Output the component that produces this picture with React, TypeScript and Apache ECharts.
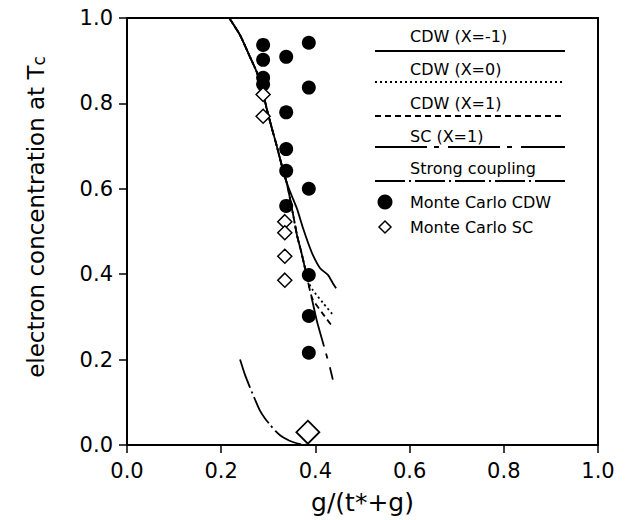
import React, { useEffect, useRef } from "react";
import * as echarts from "echarts";

// x tick labels / y tick labels
const xTicks = [0.0, 0.2, 0.4, 0.6, 0.8, 1.0];
const yTicks = [0.0, 0.2, 0.4, 0.6, 0.8, 1.0];

// Theory curves [g/(t*+g), n]
const cdwXm1 = [
  [0.217, 1.0], [0.240, 0.960], [0.261, 0.909], [0.276, 0.872], [0.287, 0.833],
  [0.297, 0.786], [0.308, 0.740], [0.318, 0.700], [0.329, 0.653], [0.340, 0.612],
  [0.350, 0.583], [0.361, 0.553], [0.374, 0.507], [0.385, 0.472], [0.395, 0.444],
  [0.410, 0.414], [0.427, 0.398], [0.437, 0.379], [0.444, 0.367],
];
const cdwX0 = [
  [0.217, 1.0], [0.240, 0.960], [0.261, 0.909], [0.276, 0.872], [0.287, 0.833],
  [0.297, 0.786], [0.308, 0.740], [0.318, 0.700], [0.329, 0.653], [0.340, 0.610],
  [0.350, 0.555], [0.361, 0.491], [0.370, 0.452], [0.378, 0.414], [0.384, 0.384],
  [0.395, 0.362], [0.416, 0.333], [0.437, 0.305],
];
const cdwX1 = [
  [0.217, 1.0], [0.240, 0.960], [0.261, 0.909], [0.276, 0.872], [0.287, 0.833],
  [0.297, 0.786], [0.308, 0.740], [0.318, 0.700], [0.329, 0.653], [0.340, 0.610],
  [0.350, 0.555], [0.361, 0.491], [0.370, 0.452], [0.378, 0.414], [0.384, 0.384],
  [0.393, 0.344], [0.414, 0.310], [0.435, 0.279],
];
const scX1 = [
  [0.217, 1.0], [0.240, 0.960], [0.261, 0.909], [0.276, 0.872], [0.287, 0.833],
  [0.297, 0.786], [0.308, 0.740], [0.318, 0.700], [0.329, 0.653], [0.340, 0.610],
  [0.350, 0.555], [0.361, 0.491], [0.370, 0.452], [0.378, 0.414], [0.384, 0.384],
  [0.393, 0.340], [0.403, 0.291], [0.417, 0.236], [0.431, 0.181], [0.437, 0.153],
];
const strongCoupling = [
  [0.240, 0.200], [0.250, 0.166], [0.261, 0.135], [0.272, 0.106], [0.282, 0.081],
  [0.293, 0.062], [0.304, 0.047], [0.315, 0.033], [0.325, 0.023], [0.338, 0.014],
  [0.352, 0.007], [0.368, 0.002], [0.384, 0.0],
];

// Monte Carlo points
const mcCdw = [
  [0.289, 0.937], [0.289, 0.902], [0.289, 0.860], [0.289, 0.845],
  [0.338, 0.909], [0.338, 0.779], [0.338, 0.693], [0.338, 0.642], [0.338, 0.560],
  [0.386, 0.942], [0.386, 0.837], [0.386, 0.600], [0.386, 0.398], [0.386, 0.302], [0.386, 0.216],
];
const mcSc = [
  [0.289, 0.821], [0.289, 0.770],
  [0.335, 0.523], [0.335, 0.497], [0.335, 0.442], [0.335, 0.386],
];
const mcScLarge = [[0.384, 0.030]];

const legendLabels = [
  "CDW (X=-1)",
  "CDW (X=0)",
  "CDW (X=1)",
  "SC (X=1)",
  "Strong coupling",
  "Monte Carlo CDW",
  "Monte Carlo SC",
];

const FONT = "DejaVu Sans";

export default function App() {
  const ref = useRef<HTMLDivElement>(null);
  useEffect(() => {
    if (!ref.current) return;
    const chart = echarts.init(ref.current, null, { renderer: "svg" });

    const dashes: (number[] | null)[] = [null, [2, 3], [6, 4], [52, 7, 5, 9], [30, 4, 2, 4]];
    const lineStyleBase = { color: "#000", width: 1.8 };
    const curves = [cdwXm1, cdwX0, cdwX1, scX1, strongCoupling];

    const legendGraphics: any[] = [];
    const lineTextY = [36, 69, 103, 136, 168];
    const lineY = [51, 82, 116, 147, 181];
    for (let i = 0; i < 5; i++) {
      legendGraphics.push({
        type: "text",
        x: 410,
        y: lineTextY[i],
        style: { text: legendLabels[i], fontFamily: FONT, fontSize: 16, fill: "#000", align: "left", verticalAlign: "middle" },
      });
      legendGraphics.push({
        type: "line",
        shape: { x1: 375, y1: lineY[i], x2: 565, y2: lineY[i] },
        style: { stroke: "#000", lineWidth: 1.8, lineDash: dashes[i] || undefined },
      });
    }
    legendGraphics.push({ type: "circle", shape: { cx: 385, cy: 202, r: 7.5 }, style: { fill: "#000" } });
    legendGraphics.push({
      type: "text", x: 410, y: 202,
      style: { text: legendLabels[5], fontFamily: FONT, fontSize: 16, fill: "#000", align: "left", verticalAlign: "middle" },
    });
    legendGraphics.push({
      type: "polygon",
      shape: { points: [[385, 221], [391, 227], [385, 233], [379, 227]] },
      style: { fill: "#fff", stroke: "#000", lineWidth: 1.5 },
    });
    legendGraphics.push({
      type: "text", x: 410, y: 227,
      style: { text: legendLabels[6], fontFamily: FONT, fontSize: 16, fill: "#000", align: "left", verticalAlign: "middle" },
    });
    legendGraphics.push({
      type: "text",
      x: 32,
      y: 217,
      rotation: Math.PI / 2,
      style: {
        text: "{a|electron concentration at T}{b|c}",
        align: "center",
        verticalAlign: "middle",
        rich: {
          a: { fontFamily: FONT, fontSize: 23, fill: "#000", verticalAlign: "bottom", lineHeight: 30 },
          b: { fontFamily: FONT, fontSize: 17, fill: "#000", verticalAlign: "bottom", lineHeight: 20 },
        },
      },
    });

    const option: any = {
      animation: false,
      backgroundColor: "#fff",
      grid: { left: 127, right: 38, top: 18, bottom: 72, show: true, borderColor: "#000", borderWidth: 2 },
      xAxis: {
        type: "value",
        min: xTicks[0],
        max: xTicks[xTicks.length - 1],
        interval: 0.2,
        splitLine: { show: false },
        axisLine: { show: true, onZero: false, lineStyle: { color: "#000", width: 2 } },
        axisTick: { show: true, inside: false, length: 8, lineStyle: { color: "#000", width: 1.5 } },
        axisLabel: { color: "#000", fontFamily: FONT, fontSize: 21, margin: 15, formatter: (v: number) => v.toFixed(1) },
        name: "g/(t*+g)",
        nameLocation: "middle",
        nameGap: 45,
        nameTextStyle: { color: "#000", fontFamily: FONT, fontSize: 25 },
      },
      yAxis: {
        type: "value",
        min: yTicks[0],
        max: yTicks[yTicks.length - 1],
        interval: 0.2,
        splitLine: { show: false },
        axisLine: { show: true, onZero: false, lineStyle: { color: "#000", width: 2 } },
        axisTick: { show: true, inside: false, length: 8, lineStyle: { color: "#000", width: 1.5 } },
        axisLabel: { color: "#000", fontFamily: FONT, fontSize: 21, margin: 14, formatter: (v: number) => v.toFixed(1) },
      },
      graphic: legendGraphics,
      series: [
        ...curves.map((c, i) => ({
          type: "line",
          data: c,
          showSymbol: false,
          symbol: "none",
          smooth: 0.2,
          lineStyle: { ...lineStyleBase, type: dashes[i] ? dashes[i] : "solid" },
          z: 2,
        })),
        {
          type: "scatter",
          data: mcCdw,
          symbol: "circle",
          symbolSize: 14,
          itemStyle: { color: "#000", opacity: 1 },
          z: 3,
        },
        {
          type: "scatter",
          data: mcSc,
          symbol: "diamond",
          symbolSize: 14,
          itemStyle: { color: "#fff", borderColor: "#000", borderWidth: 1.5, opacity: 1 },
          z: 3,
        },
        {
          type: "scatter",
          data: mcScLarge,
          symbol: "diamond",
          symbolSize: 23,
          itemStyle: { color: "#fff", borderColor: "#000", borderWidth: 1.8, opacity: 1 },
          z: 3,
        },
      ],
    };
    chart.setOption(option);
    return () => chart.dispose();
  }, []);
  return <div ref={ref} style={{ position: "fixed", left: 0, top: 0, width: 636, height: 520 }} />;
}
